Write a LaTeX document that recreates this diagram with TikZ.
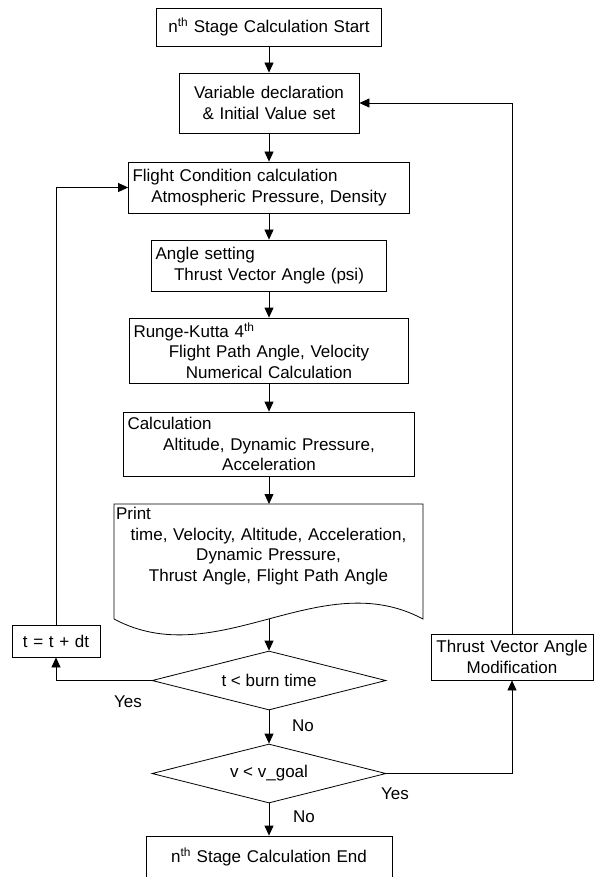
\documentclass[tikz,border=0pt]{standalone}
\usepackage{fontspec}
\setmainfont{Liberation Sans}
\usetikzlibrary{arrows.meta,shapes.geometric}
\newcommand{\flowfont}{\fontsize{17}{20.5}\selectfont}
\newcommand{\hd}[1]{\makebox[\hsize][l]{#1}}
\tikzset{
  pbox/.style={draw=black, line width=0.8pt, align=center, inner xsep=4pt, inner ysep=2pt, font=\flowfont},
  dbox/.style={diamond, aspect=4, draw=black, line width=0.8pt, align=center, inner sep=0pt, font=\flowfont, minimum width=234pt, minimum height=59pt},
  lbl/.style={font=\flowfont, inner sep=0pt},
  farr/.style={-{Triangle[length=10pt,width=9pt]}, line width=0.8pt}
}

\begin{document}
\begin{tikzpicture}[x=1pt,y=-1pt]
\useasboundingbox (0,0) rectangle (595,877);
\node[pbox, text width=217pt, minimum height=38pt] (start) at (269,27) {n\textsuperscript{th} Stage Calculation Start};
\node[pbox, text width=172pt, minimum height=60pt] (init) at (269,103) {Variable declaration\\ \& Initial Value set};
\node[pbox, text width=273pt, minimum height=51pt] (flight) at (269,187.5) {\hd{Flight Condition calculation}\\ Atmospheric Pressure, Density};
\node[pbox, text width=227pt, minimum height=51pt] (angle) at (269,265.5) {\hd{Angle setting}\\ Thrust Vector Angle (psi)};
\node[pbox, text width=271pt, minimum height=65pt] (rk4) at (269,350.5) {\hd{Runge-Kutta 4\textsuperscript{th}}\\ Flight Path Angle, Velocity\\ Numerical Calculation};
\node[pbox, text width=283pt, minimum height=64pt] (calc) at (269,444) {\hd{Calculation}\\ Altitude, Dynamic Pressure,\\ Acceleration};
% print (document shape)
\draw[line width=0.8pt] (114,619) -- (114,504) -- (423,504) -- (423,619) .. controls (320,564) and (217,674) .. (114,619);
\node[pbox, draw=none, anchor=north, inner xsep=2pt, inner ysep=3pt, text width=305pt] (prt) at (268.5,504) {\hd{Print}\\ time, Velocity, Altitude, Acceleration,\\ Dynamic Pressure,\\ Thrust Angle, Flight Path Angle};
\coordinate (ptop) at (269,504);
\coordinate (pbot) at (269,619);
\node[dbox] (burn) at (269,680.5) {t < burn time};
\node[dbox] (vgoal) at (269,773.5) {v < v\_goal};
\node[pbox, text width=238pt, minimum height=42pt] (stop) at (269,857) {n\textsuperscript{th} Stage Calculation End};
\node[pbox, text width=80pt, minimum height=32pt] (tstep) at (56,641) {t = t + dt};
\node[pbox, text width=156pt, inner xsep=3pt, minimum height=46pt] (tvmod) at (512,657) {Thrust Vector Angle\\ Modification};
\node[lbl] (yes1) at (128,702) {Yes};
\node[lbl] (no1) at (303,726) {No};
\node[lbl] (yes2) at (395,794) {Yes};
\node[lbl] (no2) at (304,817) {No};
\draw[farr] (start) -- (init);
\draw[farr] (init) -- (flight);
\draw[farr] (flight) -- (angle);
\draw[farr] (angle) -- (rk4);
\draw[farr] (rk4) -- (calc);
\draw[farr] (calc) -- (ptop);
\draw[farr] (pbot) -- (burn);
\draw[farr] (burn) -- (vgoal);
\draw[farr] (vgoal) -- (stop);
\draw[farr] (burn.west) -| (tstep.south);
\draw[farr] (tstep.north) |- (flight.west);
\draw[farr] (vgoal.east) -| (tvmod.south);
\draw[farr] (tvmod.north) |- (init.east);
\end{tikzpicture}
\end{document}
